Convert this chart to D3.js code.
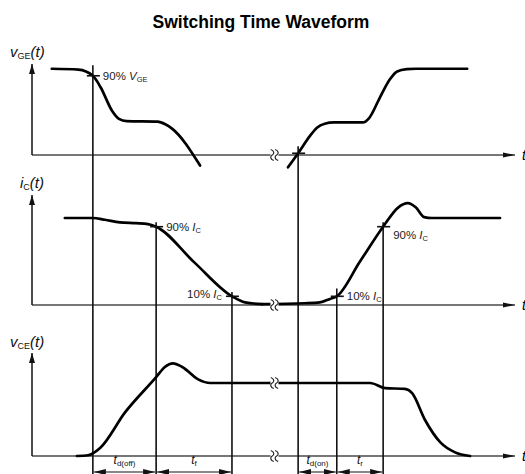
<!DOCTYPE html>
<html>
<head>
<meta charset="utf-8">
<script src="https://cdn.jsdelivr.net/npm/d3@7"></script>
<style>
  html, body { margin: 0; padding: 0; background: #fff; }
  svg { display: block; font-family: "Liberation Sans", Arial, sans-serif; }
</style>
</head>
<body>
<svg id="chart" width="525" height="474"></svg>
<script>
// Time runs on an arbitrary 0..100 scale; amplitudes are normalised (1 = steady level).
const title = "Switching Time Waveform";

// Measurement instants (turn-off: 90% VGE, 90% IC, 10% IC; turn-on: 10% VGE, 10% IC, 90% IC)
const markerTimes = [12.6, 25.7, 41.4, 55.1, 63.1, 72.7];
const breakTime = 50.2;

// Gate-emitter voltage
const vgeOff = [[4.1,0.98],[9.6,0.97],[12.6,0.9],[14.2,0.77],[16.6,0.5],[18.0,0.41],[19.6,0.385],[26.0,0.38],[27.6,0.35],[29.0,0.30],[34.8,-0.12]];
const vgeOn  = [[53.0,-0.14],[55.1,0.02],[57.6,0.22],[59.0,0.31],[60.6,0.355],[62.5,0.37],[68.5,0.37],[69.8,0.42],[72.0,0.65],[74.1,0.86],[75.6,0.95],[77.6,0.975],[79.5,0.98],[90.1,0.98]];

// Collector current
const icOff = [[6.8,1.0],[12.6,1.0],[15.1,0.98],[18.2,0.95],[21.5,0.94],[24.0,0.93],[25.7,0.9],[33.6,0.49],[41.4,0.1],[44.1,0.03],[47.6,0.01]];
const icOn  = [[47.6,0.01],[56.5,0.02],[59.6,0.03],[61.7,0.07],[63.1,0.1],[67.9,0.5],[72.7,0.9],[75.8,1.12],[77.8,1.17],[79.5,1.12],[81.2,1.01],[82.8,1.0],[96.9,1.0]];

// Collector-emitter voltage
const vceOff = [[9.3,0.0],[11.6,0.01],[14.1,0.11],[19.3,0.6],[25.7,1.08],[27.5,1.22],[29.2,1.27],[31.1,1.22],[34.4,1.05],[36.9,1.0],[49.3,1.0]];
const vceOn  = [[49.3,1.0],[70.0,1.0],[73.1,0.93],[77.2,0.92],[78.7,0.86],[81.4,0.49],[84.5,0.19],[87.6,0.05],[90.7,0.0]];

// Crossing marks: [time, panel index, level]
const crossMarks = [[12.6,0,0.9],[55.1,0,0.02],[25.7,1,0.9],[41.4,1,0.1],[63.1,1,0.1],[72.7,1,0.9]];
// Top of each measurement line: [panel index, level]
const markerTops = [[0,1.02],[1,0.95],[1,0.15],[0,0.1],[1,0.19],[1,0.95]];

// Interval labels between consecutive markers
const intervalLabels = [
  {from: 0, to: 1, main: "t", sub: "d(off)"},
  {from: 1, to: 2, main: "t", sub: "f"},
  {from: 3, to: 4, main: "t", sub: "d(on)"},
  {from: 4, to: 5, main: "t", sub: "r"}
];

// Axis titles and threshold annotations
const axisTitles = [
  {main: "v", sub: "GE", tail: "(t)"},
  {main: "i", sub: "C", tail: "(t)"},
  {main: "v", sub: "CE", tail: "(t)"}
];
const thresholdLabels = [
  {time: 12.6, panel: 0, level: 0.9, pct: "90% ", sym: "V", sub: "GE", side: "right"},
  {time: 25.7, panel: 1, level: 0.9, pct: "90% ", sym: "I", sub: "C", side: "right"},
  {time: 41.4, panel: 1, level: 0.1, pct: "10% ", sym: "I", sub: "C", side: "left"},
  {time: 72.7, panel: 1, level: 0.9, pct: "90% ", sym: "I", sub: "C", side: "right"},
  {time: 63.1, panel: 1, level: 0.1, pct: "10% ", sym: "I", sub: "C", side: "right"}
];

const svg = d3.select("#chart");

const x = d3.scaleLinear().domain([0, 100]).range([32, 515]);
const panels = [
  {y: d3.scaleLinear().domain([0, 1]).range([155, 67]), off: vgeOff, on: vgeOn, titleY: 57, titleX: 10, arrowTop: 64},
  {y: d3.scaleLinear().domain([0, 1]).range([305, 218]), off: icOff, on: icOn, titleY: 188, titleX: 20, arrowTop: 195},
  {y: d3.scaleLinear().domain([0, 1]).range([456, 383]), off: vceOff, on: vceOn, titleY: 347, titleX: 10, arrowTop: 353}
];

const defs = svg.append("defs");
defs.append("marker").attr("id", "axisHead")
  .attr("viewBox", "0 0 12 6").attr("refX", 12).attr("refY", 3)
  .attr("markerWidth", 12).attr("markerHeight", 6).attr("markerUnits", "userSpaceOnUse")
  .attr("orient", "auto")
  .append("path").attr("d", "M0,0.6 L12,3 L0,5.4 Z").attr("fill", "#111");
defs.append("marker").attr("id", "yHead")
  .attr("viewBox", "0 0 6 10").attr("refX", 3).attr("refY", 0)
  .attr("markerWidth", 6).attr("markerHeight", 10).attr("markerUnits", "userSpaceOnUse")
  .attr("orient", "0")
  .append("path").attr("d", "M3,0 L6,10 L0,10 Z").attr("fill", "#111");
defs.append("marker").attr("id", "dimHead")
  .attr("viewBox", "0 0 12 6").attr("refX", 12).attr("refY", 3)
  .attr("markerWidth", 12).attr("markerHeight", 6).attr("markerUnits", "userSpaceOnUse")
  .attr("orient", "auto-start-reverse")
  .append("path").attr("d", "M0,0 L12,3 L0,6 Z").attr("fill", "#111");

// Title
svg.append("text")
  .attr("x", 261).attr("y", 28)
  .attr("text-anchor", "middle")
  .attr("font-size", 17.5).attr("font-weight", "bold")
  .attr("fill", "#000")
  .text(title);

const line = d3.line().x(d => x(d[0])).y(d => d[1]).curve(d3.curveMonotoneX);

panels.forEach((p, i) => {
  const g = svg.append("g");
  const y0 = p.y(0);
  // time axis
  g.append("line")
    .attr("x1", x(0)).attr("x2", x(100))
    .attr("y1", y0).attr("y2", y0)
    .attr("stroke", "#777").attr("stroke-width", 2)
    .attr("marker-end", "url(#axisHead)");
  g.append("text")
    .attr("x", 522).attr("y", y0 + 5)
    .attr("font-size", 14).attr("font-style", "italic")
    .text("t");
  // amplitude axis
  g.append("line")
    .attr("x1", x(0)).attr("x2", x(0))
    .attr("y1", y0).attr("y2", p.arrowTop)
    .attr("stroke", "#111").attr("stroke-width", 1.5)
    .attr("marker-end", "url(#yHead)");
  // axis title
  const t = axisTitles[i];
  const tt = g.append("text").attr("x", p.titleX).attr("y", p.titleY).attr("font-size", 15).attr("fill", "#111");
  tt.append("tspan").attr("font-style", "italic").text(t.main);
  tt.append("tspan").attr("font-size", 9).attr("dy", 2).text(t.sub);
  tt.append("tspan").attr("font-style", "italic").attr("dy", -2).text(t.tail);
});

// Measurement lines
markerTimes.forEach((mt, k) => {
  const [pi, lvl] = markerTops[k];
  svg.append("line")
    .attr("x1", x(mt)).attr("x2", x(mt))
    .attr("y1", panels[pi].y(lvl)).attr("y2", 476)
    .attr("stroke", "#111").attr("stroke-width", 1.6);
});

// Waveforms
panels.forEach(p => {
  [p.off, p.on].forEach(seg => {
    svg.append("path")
      .datum(seg.map(d => [d[0], p.y(d[1])]))
      .attr("d", line)
      .attr("fill", "none")
      .attr("stroke", "#000").attr("stroke-width", 2.7)
      .attr("stroke-linejoin", "round").attr("stroke-linecap", "round");
  });
});

// Crossing marks
crossMarks.forEach(([mt, pi, lvl]) => {
  const cy = panels[pi].y(lvl);
  svg.append("line")
    .attr("x1", x(mt) - 6).attr("x2", x(mt) + 7)
    .attr("y1", cy).attr("y2", cy)
    .attr("stroke", "#111").attr("stroke-width", 1.6);
});

// Break symbols on the time axes and the flat collector-emitter level
const breakLevels = [[0,0],[1,0],[2,1],[2,0]];
breakLevels.forEach(([pi, lvl]) => {
  const bx = x(breakTime), by = panels[pi].y(lvl);
  svg.append("rect").attr("x", bx - 4).attr("y", by - 3).attr("width", 8).attr("height", 6).attr("fill", "#fff");
  [-2.2, 2.2].forEach(dx => {
    const cx = bx + dx;
    svg.append("path")
      .attr("d", `M${cx - 1.5},${by - 5.5} C${cx + 2.5},${by - 4} ${cx + 2},${by - 1} ${cx},${by} C${cx - 2},${by + 1} ${cx - 2.5},${by + 4} ${cx + 1.5},${by + 5.5}`)
      .attr("fill", "none").attr("stroke", "#222").attr("stroke-width", 1.2);
  });
});

// Threshold annotations
thresholdLabels.forEach(l => {
  const lx = l.side === "right" ? x(l.time) + 10 : x(l.time) - 10;
  const ly = panels[l.panel].y(l.level) + (l.side === "right" ? 4 : 2) + (l.time > 70 ? 8 : 0);
  const txt = svg.append("text")
    .attr("x", lx).attr("y", ly)
    .attr("text-anchor", l.side === "right" ? "start" : "end")
    .attr("font-size", 11.5).attr("fill", "#222");
  txt.append("tspan").text(l.pct);
  txt.append("tspan").attr("font-style", "italic").text(l.sym);
  txt.append("tspan").attr("font-size", 7.5).attr("dy", 2).text(l.sub);
});

// Interval dimensions
intervalLabels.forEach(il => {
  const x1 = x(markerTimes[il.from]), x2 = x(markerTimes[il.to]);
  svg.append("line")
    .attr("x1", x1 + 1).attr("x2", x2 - 1)
    .attr("y1", 472).attr("y2", 472)
    .attr("stroke", "#111").attr("stroke-width", 1.2)
    .attr("marker-start", "url(#dimHead)").attr("marker-end", "url(#dimHead)");
  const txt = svg.append("text")
    .attr("x", (x1 + x2) / 2).attr("y", 464)
    .attr("text-anchor", "middle")
    .attr("font-size", 12).attr("fill", "#111");
  txt.append("tspan").attr("font-style", "italic").text(il.main);
  txt.append("tspan").attr("font-size", 8).attr("dy", 2).text(il.sub);
});
</script>
</body>
</html>
